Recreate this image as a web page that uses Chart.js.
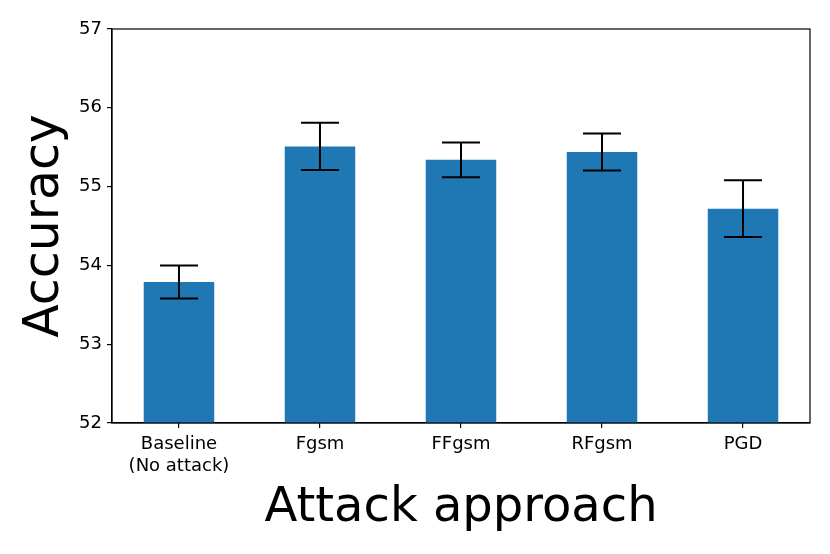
<!DOCTYPE html>
<html>
<head>
<meta charset="utf-8">
<script src="https://cdn.jsdelivr.net/npm/chart.js@4.4.0/dist/chart.umd.min.js"></script>
<style>
  html, body { margin: 0; padding: 0; background: #fff; }
  #grafico { display: block; }
</style>
</head>
<body>
<canvas id="grafico" width="830" height="554"></canvas>
<script>
// Datos
const categorias = [["Baseline", "(No attack)"], "Fgsm", "FFgsm", "RFgsm", "PGD"];
const precision = [53.79, 55.51, 55.34, 55.44, 54.72];
const errores = [0.21, 0.30, 0.22, 0.235, 0.36];
const ticksY = [52, 53, 54, 55, 56, 57];

// Barras de error dibujadas con las escalas de Chart.js
const barrasError = {
  id: "barrasError",
  afterDatasetsDraw(chart) {
    const ctx = chart.ctx;
    const x = chart.scales.x, y = chart.scales.y;
    ctx.save();
    ctx.strokeStyle = "#000";
    ctx.lineWidth = 2;
    precision.forEach((v, i) => {
      const px = x.getPixelForValue(i);
      const top = y.getPixelForValue(v + errores[i]);
      const bot = y.getPixelForValue(v - errores[i]);
      ctx.beginPath();
      ctx.moveTo(px, top); ctx.lineTo(px, bot);
      ctx.moveTo(px - 19, top); ctx.lineTo(px + 19, top);
      ctx.moveTo(px - 19, bot); ctx.lineTo(px + 19, bot);
      ctx.stroke();
    });
    // marco completo del area de datos
    const a = chart.chartArea;
    ctx.lineWidth = 1.2;
    ctx.strokeRect(a.left, a.top, a.right - a.left, a.bottom - a.top);
    ctx.restore();
  }
};

Chart.defaults.font.family = "'DejaVu Sans'";
Chart.defaults.color = "#000";

const ctx = document.getElementById("grafico").getContext("2d");
new Chart(ctx, {
  type: "bar",
  data: {
    datasets: [{
      data: precision.map((v, i) => ({ x: i, y: v })),
      backgroundColor: "#1f77b4",
      borderWidth: 0,
      barPercentage: 0.5,
      categoryPercentage: 1
    }]
  },
  options: {
    responsive: false,
    animation: false,
    layout: { padding: { left: 16, top: 29, right: 20, bottom: 0 } },
    plugins: { legend: { display: false }, tooltip: { enabled: false } },
    scales: {
      x: {
        type: "linear",
        offset: false,
        min: -0.475,
        max: 4.475,
        afterBuildTicks: (s) => { s.ticks = categorias.map((c, i) => ({ value: i })); },
        afterFit: (s) => { s.height = 131; },
        ticks: {
          font: { size: 18 },
          padding: 6,
          maxRotation: 0,
          autoSkip: false,
          callback: (v) => categorias[v]
        },
        grid: { offset: false, drawOnChartArea: false, tickLength: 5, color: "#000", lineWidth: 1.2 },
        border: { color: "#000", width: 1.2 },
        title: { display: true, text: "Attack approach", font: { size: 48 }, padding: { top: 6, bottom: 17 } }
      },
      y: {
        min: 52,
        max: 57,
        afterBuildTicks: (s) => { s.ticks = ticksY.map(v => ({ value: v })); },
        afterFit: (s) => { s.width = 96; },
        ticks: { font: { size: 18 }, padding: 5 },
        grid: { drawOnChartArea: false, tickLength: 5, color: "#000", lineWidth: 1.2 },
        border: { color: "#000", width: 1.2 },
        title: { display: true, text: "Accuracy", font: { size: 49 }, padding: { top: 0, bottom: 0 } }
      }
    }
  },
  plugins: [barrasError]
});
</script>
</body>
</html>
